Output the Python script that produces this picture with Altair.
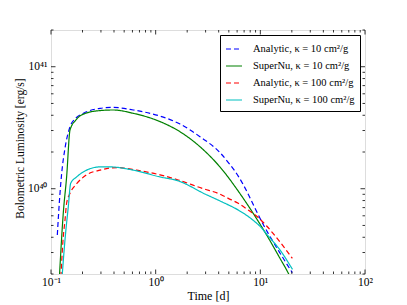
import math
import altair as alt
import pandas as pd

# ---- data ----
series_names = [
    "Analytic, κ = 10 cm²/g",
    "SuperNu, κ = 10 cm²/g",
    "Analytic, κ = 100 cm²/g",
    "SuperNu, κ = 100 cm²/g",
]
series_colors = ["#0000ff", "#008000", "#ff0000", "#00bfbf"]
series_dashes = [[5, 3], [1, 0], [5, 3], [1, 0]]

t_a10 = [0.1149, 0.1206, 0.1265, 0.136, 0.152, 0.173, 0.204, 0.294, 0.394, 0.611,
         1.10, 1.71, 2.65, 4.11, 5.12, 6.15, 7.40, 8.88, 10.66, 11.9, 15.4, 20.2]
L_a10 = [4.17e39, 8.1e39, 1.34e40, 2.14e40, 3.22e40, 3.8e40, 4.15e40, 4.56e40, 4.64e40, 4.42e40,
         3.94e40, 3.39e40, 2.67e40, 1.98e40, 1.58e40, 1.27e40, 9.57e39, 6.95e39, 5.09e39, 4.30e39,
         2.97e39, 2.05e39]

t_s10 = [0.1192, 0.131, 0.141, 0.152, 0.173, 0.204, 0.294, 0.394, 0.611, 1.10,
         1.71, 2.65, 4.11, 6.38, 8.88, 11.5, 15.4, 18.5, 19.2]
L_s10 = [1.63e39, 6.3e39, 1.25e40, 3.03e40, 3.66e40, 4.09e40, 4.37e40, 4.42e40, 4.15e40, 3.55e40,
         2.93e40, 2.21e40, 1.51e40, 9.14e39, 5.97e39, 4.17e39, 2.69e39, 2.03e39, 1.9e39]

t_a100 = [0.1232, 0.131, 0.136, 0.141, 0.152, 0.176, 0.219, 0.294, 0.424, 0.658,
          1.10, 1.64, 2.85, 3.96, 4.94, 6.15, 7.66, 9.55, 11.49, 15.4, 20.2]
L_a100 = [1.63e39, 4.04e39, 5.5e39, 7.6e39, 9.17e39, 1.1e40, 1.30e40, 1.42e40, 1.49e40, 1.42e40,
          1.30e40, 1.18e40, 1.0e40, 9.16e39, 8.34e39, 7.59e39, 6.69e39, 5.81e39, 4.95e39, 3.66e39,
          2.69e39]

t_s100 = [0.126, 0.136, 0.1463, 0.1542, 0.176, 0.219, 0.294, 0.366, 0.611, 1.10,
          1.64, 2.96, 4.27, 6.15, 8.26, 10.29, 11.49, 15.4, 20.3]
L_s100 = [1.63e39, 3.8e39, 7.12e39, 1.107e40, 1.25e40, 1.42e40, 1.51e40, 1.51e40, 1.42e40, 1.25e40,
          1.16e40, 9.05e39, 7.82e39, 6.69e39, 5.64e39, 4.76e39, 4.25e39, 3.15e39, 2.18e39]

x_domain = [0.1, 100]
y_domain = [2e39, 2e41]
x_major = [0.1, 1, 10, 100]
x_major_labels = ["10⁻¹", "10⁰", "10¹", "10²"]
y_major = [1e40, 1e41]
y_major_labels = ["10⁴⁰", "10⁴¹"]
x_minor = [k * d for d in (0.1, 1, 10) for k in range(2, 10)]
y_minor = [k * d for d in (1e39, 1e40) for k in range(2, 10)] + [2e41]

# ---- build table ----
rows = []
for name, ts, Ls in zip(series_names, [t_a10, t_s10, t_a100, t_s100],
                        [L_a10, L_s10, L_a100, L_s100]):
    for t, L in zip(ts, Ls):
        rows.append({"t": t, "L": L, "series": name})
df = pd.DataFrame(rows)

W, H = 314, 244
FONT = "Liberation Serif"

xscale = alt.Scale(type="log", domain=x_domain, nice=False)
yscale = alt.Scale(type="log", domain=y_domain, nice=False)


def label_expr(values, labels):
    expr = "''"
    for v, lab in zip(values, labels):
        e = round(math.log10(v))
        expr = f"round(log(datum.value)/LN10) == {e} ? '{lab}' : ({expr})"
    return expr


xaxis = alt.Axis(values=x_major, labelExpr=label_expr(x_major, x_major_labels),
                 ticks=False, tickSize=0, domain=False, grid=False,
                 labelPadding=11, labelBaseline="alphabetic",
                 labelFont=FONT, labelFontSize=11.5, labelColor="black",
                 title="Time [d]", titleFont=FONT, titleFontSize=12,
                 titleFontWeight="normal", titleColor="black",
                 titleX=W / 2, titleY=25, titleBaseline="alphabetic",
                 titleAlign="center", labelFlush=False, labelOverlap=False)
yaxis = alt.Axis(values=y_major, labelExpr=label_expr(y_major, y_major_labels),
                 ticks=False, tickSize=0, domain=False, grid=False,
                 labelPadding=4, labelBaseline="middle",
                 labelFont=FONT, labelFontSize=11.5, labelColor="black",
                 title="Bolometric Luminosity [erg/s]", titleFont=FONT,
                 titleFontSize=11.5, titleFontWeight="normal", titleColor="black",
                 titleX=-31, titleY=H / 2 - 4, titleAngle=270, titleBaseline="middle",
                 titleAlign="center", labelFlush=False, labelOverlap=False)

lines = alt.Chart(df).mark_line(clip=True, strokeWidth=1.2, interpolate="monotone").encode(
    x=alt.X("t:Q", scale=xscale, axis=xaxis, title="Time [d]"),
    y=alt.Y("L:Q", scale=yscale, axis=yaxis, title="Bolometric Luminosity [erg/s]"),
    color=alt.Color("series:N", scale=alt.Scale(domain=series_names, range=series_colors),
                    title=None,
                    legend=alt.Legend(orient="top-right", offset=5, padding=5,
                                      strokeColor="black", fillColor="white",
                                      cornerRadius=0, symbolType="stroke",
                                      symbolSize=256, symbolStrokeWidth=1.2,
                                      labelFont=FONT, labelFontSize=10.5,
                                      labelColor="black", labelOffset=10,
                                      rowPadding=2, labelLimit=300)),
    strokeDash=alt.StrokeDash("series:N",
                              scale=alt.Scale(domain=series_names, range=series_dashes),
                              title=None),
)

MAJ, MIN = 4.5, 2.5
tick_layers = []
for vals, ln in ((x_major, MAJ), (x_minor, MIN)):
    d = pd.DataFrame({"t": vals})
    xenc = alt.X("t:Q", scale=xscale, axis=xaxis, title="Time [d]")
    tick_layers.append(alt.Chart(d).mark_rule(color="black", strokeWidth=0.8).encode(
        x=xenc, y=alt.value(H), y2=alt.value(H - ln)))
    tick_layers.append(alt.Chart(d).mark_rule(color="black", strokeWidth=0.8).encode(
        x=xenc, y=alt.value(0), y2=alt.value(ln)))
for vals, ln in ((y_major, MAJ), (y_minor, MIN)):
    d = pd.DataFrame({"L": vals})
    yenc = alt.Y("L:Q", scale=yscale, axis=yaxis, title="Bolometric Luminosity [erg/s]")
    tick_layers.append(alt.Chart(d).mark_rule(color="black", strokeWidth=0.8).encode(
        y=yenc, x=alt.value(0), x2=alt.value(ln)))
    tick_layers.append(alt.Chart(d).mark_rule(color="black", strokeWidth=0.8).encode(
        y=yenc, x=alt.value(W), x2=alt.value(W - ln)))

chart = alt.layer(lines, *tick_layers).properties(
    width=W, height=H,
    autosize=alt.AutoSizeParams(type="none"),
    padding={"left": 43, "top": 22, "right": 34, "bottom": 31},
).configure_view(stroke="black", strokeWidth=1).configure(background="white")

chart.save("out.html", embed_options={"renderer": "svg", "actions": False})
